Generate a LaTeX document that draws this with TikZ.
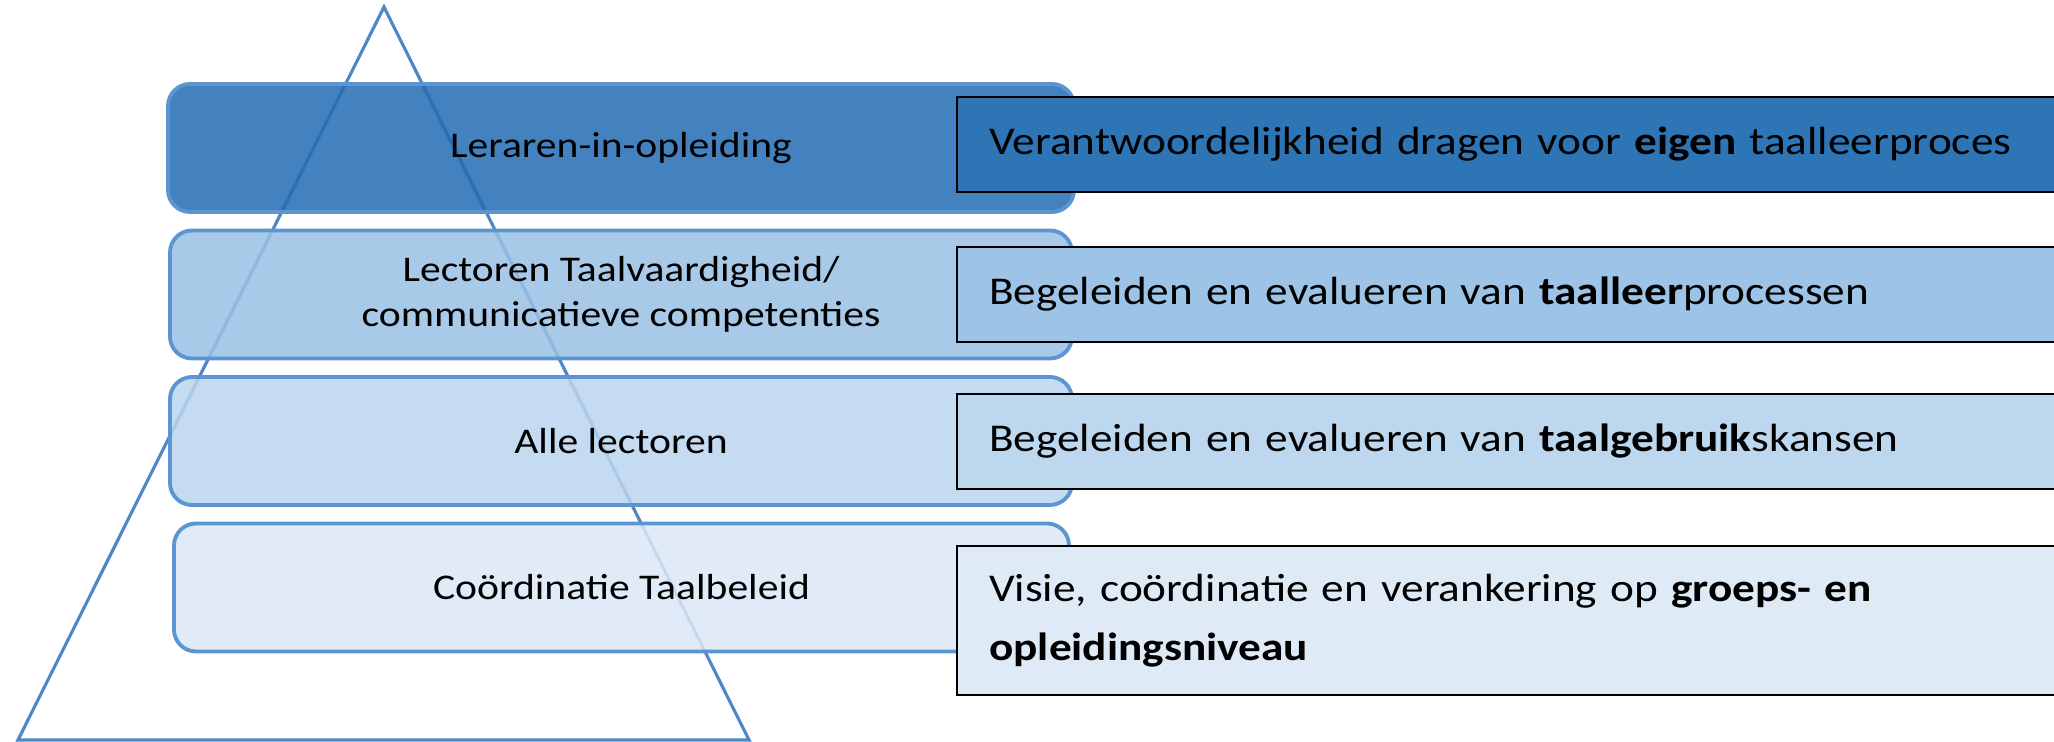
\documentclass[tikz,border=0pt]{standalone}
\usepackage{fontspec}
\setmainfont{Carlito}[FakeStretch=1.15]
\usepackage{tikz}
\usetikzlibrary{positioning,calc}
\definecolor{trianglecolor}{RGB}{79, 136, 198}
\definecolor{edgecolor}{RGB}{91, 150, 210}
\definecolor{levelone}{RGB}{34, 108, 180}
\definecolor{leveltwo}{RGB}{153, 192, 228}
\definecolor{levelthree}{RGB}{187, 213, 238}
\definecolor{levelfour}{RGB}{218, 232, 246}
\definecolor{taskone}{RGB}{46, 117, 182}
\definecolor{tasktwo}{RGB}{157, 195, 230}
\definecolor{taskthree}{RGB}{189, 215, 238}
\definecolor{taskfour}{RGB}{222, 235, 247}

\begin{document}
\begin{tikzpicture}[
    level/.style={rounded corners=0.22cm, draw=edgecolor, line width=1.1pt, fill opacity=0.85, text opacity=1, minimum width=9.0cm, minimum height=1.28cm, align=center, font=\fontsize{10.3}{12.7}\selectfont},
    task/.style={draw=black, line width=0.7pt, anchor=west, text width=11.0cm, inner xsep=0.32cm, align=left, minimum height=0.95cm, font=\fontsize{11.2}{16.7}\selectfont}
]
    \useasboundingbox (0, 0) rectangle (20.54, 7.42);

    % pyramid behind the levels
    \coordinate (top) at (3.84, 7.35);
    \coordinate (baseleft) at (0.18, 0.02);
    \coordinate (baseright) at (7.49, 0.02);
    \draw[trianglecolor, line width=0.9pt, line join=miter] (top) -- (baseright) -- (baseleft) -- cycle;

    \node[level, fill=levelone, minimum width=9.06cm] (leraren) at (6.21, 5.94) {Leraren-in-opleiding};
    \node[level, fill=leveltwo, minimum width=9.02cm] (lectorentv) at (6.21, 4.475) {Lectoren Taalvaardigheid/\\communicatieve competenties};
    \node[level, fill=levelthree, minimum width=9.02cm] (lectoren) at (6.21, 3.01) {Alle lectoren};
    \node[level, fill=levelfour, minimum width=8.95cm] (coordinatie) at (6.215, 1.545) {Coördinatie Taalbeleid};

    \node[task, fill=taskone] (eigen) at (9.56, 5.975) {Verantwoordelijkheid dragen voor \textbf{eigen} taalleerproces};
    \node[task, fill=tasktwo] (taalleer) at (9.56, 4.475) {Begeleiden en evalueren van \textbf{taalleer}processen};
    \node[task, fill=taskthree] (taalgebruik) at (9.56, 3.005) {Begeleiden en evalueren van \textbf{taalgebruik}skansen};
    \node[task, fill=taskfour, minimum height=1.49cm] (visie) at (9.56, 1.215) {Visie, coördinatie en verankering op \textbf{groeps- en}\\\textbf{opleidingsniveau}};
\end{tikzpicture}
\end{document}
